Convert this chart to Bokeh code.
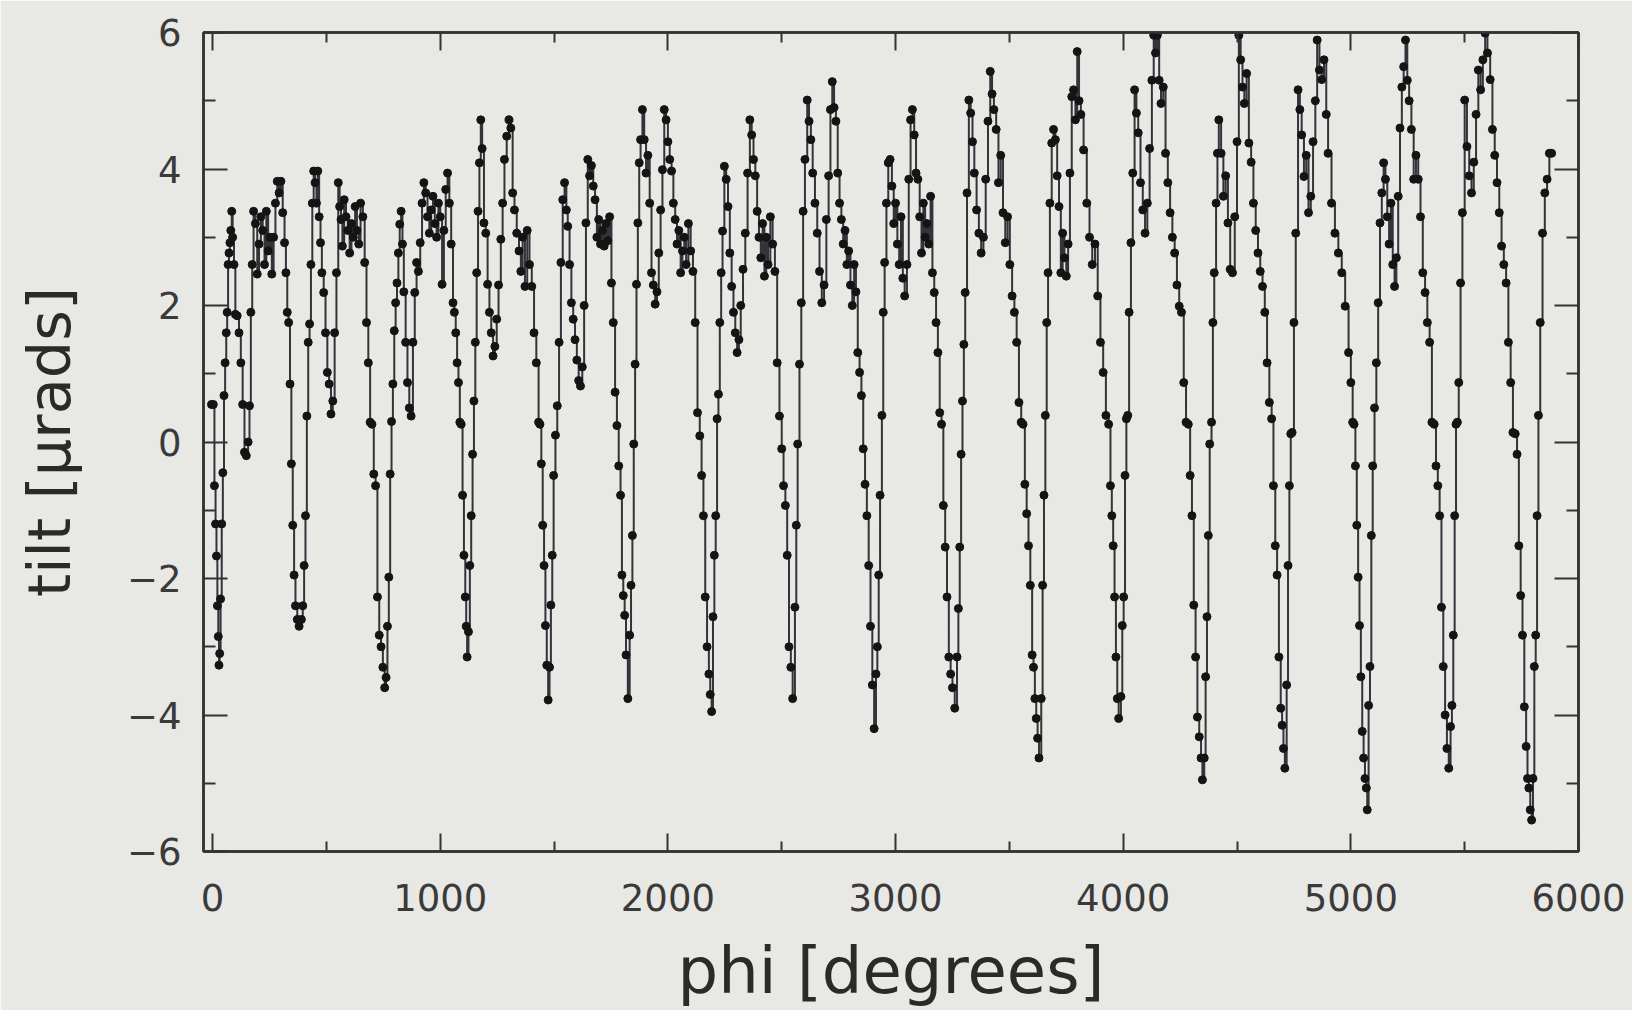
from bokeh.plotting import figure
from bokeh.models import LinearAxis, FixedTicker, CustomJSTickFormatter
from bokeh.embed import file_html
from bokeh.resources import INLINE

# ---- data: (phi [deg], tilt [urad]), one list per rotation ----
c00 = [(-5,0.55),(3,0.55),(8,-0.64),(13,-1.2),(17,-1.67),(21,-2.4),(25,-2.85),(28,-3.27)]
c01 = [(31,-3.1),(35,-2.3),(40,-1.2),(45,-0.45),(50,0.68),(55,1.16),(60,1.6),(64,1.9),(68,2.6),(72,2.77),(76,2.92),(80,3.1),(84,3.38),(88,3.0),(94,2.6),(100,1.87),(108,1.85),(116,1.6),(124,1.16),(132,0.55),(140,-0.15),(148,-0.2),(156,0.0),(162,0.53),(168,1.9),(174,2.6),(180,3.38),(188,3.2),(196,2.46),(204,2.9),(212,3.3),(220,3.1),(228,2.6),(236,3.38),(244,2.8),(252,3.0),(260,2.46),(268,3.0),(276,3.5),(284,3.82),(292,3.65),(300,3.82),(308,3.36),(316,2.92),(322,2.48),(328,1.9),(334,1.75),(340,0.85),(346,-0.32),(352,-1.22),(358,-1.95),(364,-2.4),(372,-2.6),(380,-2.7)]
c02 = [(390,-2.6),(396,-2.4),(402,-1.81),(408,-1.08),(414,0.38),(420,1.46),(426,1.73),(432,2.6),(438,3.5),(444,3.97),(450,3.8),(456,3.5),(462,3.97),(468,3.3),(474,2.92),(480,2.48),(488,2.19),(496,1.6),(504,1.02),(512,0.85),(520,0.41),(528,0.6),(536,1.6),(544,2.48),(552,3.8),(558,3.45),(564,3.26),(570,2.87),(578,3.55),(586,3.3),(594,3.1),(602,2.77),(610,3.2),(618,3.0),(626,3.45),(634,3.1),(642,2.9),(650,3.5),(660,3.3),(668,2.63),(676,1.75),(684,1.16),(692,0.29),(700,0.26),(708,-0.47),(716,-0.64),(724,-2.27),(732,-2.83),(740,-3.0),(748,-3.3),(756,-3.6)]
c03 = [(762,-3.45),(768,-2.7),(774,-1.98),(780,-0.47),(786,0.3),(792,0.85),(798,1.63),(804,2.04),(810,2.33),(816,2.77),(822,3.19),(828,3.38),(834,2.9),(840,2.2),(848,1.46),(856,0.87),(864,0.5),(872,0.38),(880,1.46),(888,2.19),(896,2.63),(904,2.5),(912,2.92),(920,3.5),(928,3.8),(936,3.65),(944,3.3),(952,3.06),(960,3.4),(968,3.6),(976,3.2),(984,3.0),(992,3.5),(1000,3.3),(1008,2.31),(1016,3.1),(1024,3.7),(1032,3.94),(1040,3.5),(1048,2.9),(1056,2.04),(1062,1.9),(1068,1.6),(1074,1.16),(1080,0.87),(1086,0.29),(1092,0.26),(1098,-0.78),(1104,-1.66),(1110,-2.27),(1114,-2.7),(1118,-3.15)]
c04 = [(1124,-2.78),(1130,-1.81),(1136,-1.08),(1142,-0.18),(1148,0.6),(1154,1.46),(1160,2.48),(1166,3.38),(1172,4.09),(1178,4.72),(1184,4.3),(1192,3.21),(1200,3.06),(1208,2.31),(1216,1.9),(1224,1.6),(1232,1.26),(1240,1.4),(1248,1.8),(1256,2.3),(1266,2.97),(1274,3.5),(1282,4.14),(1292,4.48),(1302,4.72),(1310,4.6),(1318,3.65),(1326,3.4),(1336,3.06),(1346,2.8),(1354,2.5),(1362,3.0),(1372,2.28),(1382,3.1),(1392,2.6),(1402,2.28),(1412,1.6),(1422,1.16),(1432,0.29),(1438,0.26),(1444,-0.32),(1450,-1.22),(1456,-1.81),(1462,-2.69),(1468,-3.27),(1474,-3.78)]
c05 = [(1480,-3.3),(1486,-2.39),(1492,-1.66),(1498,-0.49),(1506,0.1),(1514,0.53),(1522,1.46),(1530,2.63),(1538,3.55),(1546,3.8),(1554,3.4),(1560,3.16),(1568,2.6),(1576,2.04),(1584,1.8),(1592,1.5),(1600,1.2),(1608,0.9),(1616,0.82),(1624,1.1),(1632,2.0),(1640,3.21),(1648,4.14),(1656,3.9),(1664,4.05),(1672,3.75),(1680,3.55),(1688,3.0),(1696,3.26),(1704,2.9),(1712,3.1),(1720,2.87),(1728,3.2),(1736,2.95),(1744,3.3),(1752,2.33),(1760,1.75),(1768,0.73),(1776,0.24),(1784,-0.35),(1792,-0.78),(1798,-1.95),(1804,-2.25),(1810,-2.54),(1816,-3.12),(1824,-3.76)]
c06 = [(1832,-2.83),(1838,-2.1),(1844,-1.37),(1850,-0.03),(1856,1.14),(1862,2.31),(1868,3.21),(1874,4.09),(1880,4.43),(1888,4.87),(1896,4.43),(1904,3.94),(1912,4.2),(1920,3.5),(1928,2.48),(1936,2.3),(1944,2.02),(1952,2.2),(1960,2.77),(1968,3.4),(1976,3.99),(1984,4.87),(1992,4.72),(2000,4.4),(2008,4.14),(2016,3.97),(2024,3.5),(2032,3.26),(2040,2.9),(2048,3.1),(2056,2.48),(2064,2.8),(2072,3.0),(2080,2.6),(2090,3.2),(2100,2.8),(2110,2.5),(2120,1.75),(2130,0.43),(2140,0.09),(2148,-0.49),(2156,-1.08),(2164,-2.27),(2172,-3.0),(2180,-3.4),(2186,-3.7),(2192,-3.95)]
c07 = [(2198,-2.56),(2204,-1.66),(2210,-1.08),(2216,0.34),(2222,0.7),(2228,1.75),(2234,2.48),(2240,3.09),(2248,4.04),(2256,3.85),(2264,3.45),(2272,2.77),(2280,2.28),(2288,1.9),(2296,1.6),(2304,1.31),(2312,1.5),(2320,2.0),(2330,2.53),(2340,3.06),(2350,3.94),(2360,4.72),(2368,4.5),(2376,4.14),(2384,3.9),(2392,3.38),(2400,3.0),(2408,2.7),(2416,3.2),(2424,2.43),(2432,3.0),(2440,2.6),(2450,3.3),(2460,2.9),(2470,2.5),(2480,1.16),(2490,0.38),(2500,-0.1),(2508,-0.64),(2516,-0.93),(2524,-1.66),(2532,-3.0),(2540,-3.3),(2548,-3.76)]
c08 = [(2558,-2.42),(2564,-1.22),(2570,-0.03),(2578,1.14),(2586,2.04),(2594,3.38),(2602,4.14),(2612,5.01),(2620,4.7),(2628,4.43),(2636,3.94),(2646,3.5),(2656,3.06),(2666,2.5),(2676,2.04),(2686,2.3),(2696,3.26),(2706,3.9),(2714,4.87),(2722,5.28),(2730,4.9),(2738,4.7),(2746,3.94),(2754,3.5),(2762,3.26),(2770,2.9),(2778,3.1),(2786,2.6),(2794,2.8),(2802,2.3),(2810,2.0),(2818,2.6),(2826,2.2),(2834,1.31),(2842,1.02),(2850,0.68),(2858,-0.1),(2866,-0.62),(2874,-1.08),(2882,-1.81),(2890,-2.7),(2898,-3.56),(2906,-4.2)]
c09 = [(2914,-3.4),(2920,-3.0),(2926,-1.95),(2932,-0.78),(2940,0.39),(2946,1.9),(2952,2.63),(2960,3.5),(2968,4.09),(2976,4.14),(2984,3.75),(2992,3.2),(3000,3.5),(3008,2.9),(3016,2.6),(3024,3.3),(3032,2.4),(3040,2.14),(3050,2.6),(3058,3.85),(3066,4.72),(3074,4.87),(3082,4.5),(3090,3.94),(3098,3.85),(3106,3.3),(3114,2.77),(3122,3.5),(3130,3.0),(3138,3.2),(3146,2.9),(3154,3.6),(3162,2.48),(3170,2.19),(3178,1.75),(3186,1.31),(3194,0.43),(3202,0.26),(3210,-0.93),(3218,-1.54),(3226,-2.27),(3234,-3.15),(3242,-3.4),(3250,-3.6),(3260,-3.9)]
c10 = [(3270,-3.15),(3276,-2.44),(3282,-1.54),(3288,-0.18),(3294,0.6),(3300,1.43),(3306,2.19),(3314,3.65),(3322,5.01),(3330,4.82),(3338,4.4),(3346,3.94),(3356,3.4),(3366,3.06),(3376,2.77),(3386,3.0),(3396,3.85),(3406,4.7),(3416,5.43),(3424,5.1),(3432,4.87),(3442,4.58),(3452,3.8),(3462,4.2),(3472,3.36),(3482,2.92),(3492,3.3),(3502,2.6),(3512,2.14),(3522,1.9),(3532,1.46),(3542,0.58),(3552,0.29),(3560,0.26),(3568,-0.62),(3576,-1.05),(3584,-1.52),(3592,-2.1),(3600,-3.12),(3606,-3.3),(3612,-3.76),(3618,-4.05),(3624,-4.34),(3630,-4.63)]
c11 = [(3640,-3.76),(3646,-2.1),(3652,-0.78),(3658,0.39),(3664,1.75),(3670,2.48),(3678,3.5),(3686,4.38),(3694,4.58),(3702,4.43),(3710,3.9),(3718,3.45),(3726,2.48),(3734,3.06),(3742,2.7),(3750,2.43),(3758,2.9),(3766,3.94),(3774,5.06),(3782,5.16),(3790,4.72),(3798,5.72),(3806,5.0),(3814,4.8),(3826,4.28),(3840,3.5),(3852,3.0),(3864,2.6),(3876,2.9),(3888,2.14),(3900,1.46),(3912,1.02),(3924,0.39),(3936,0.26),(3944,-0.64),(3950,-1.08),(3956,-1.52),(3962,-2.27),(3968,-3.15),(3974,-3.76),(3980,-4.05)]
c12 = [(3990,-3.73),(3996,-2.69),(4002,-2.27),(4008,-0.49),(4014,0.34),(4020,0.39),(4026,1.9),(4034,2.92),(4042,3.94),(4050,5.16),(4058,4.82),(4066,4.53),(4076,3.8),(4086,3.4),(4096,3.06),(4106,3.5),(4116,4.3),(4126,5.3),(4134,5.96),(4142,5.7),(4150,5.96),(4158,5.3),(4166,4.96),(4176,5.2),(4186,4.23),(4196,3.8),(4206,3.36),(4216,3.0),(4226,2.77),(4236,2.3),(4246,1.99),(4256,1.9),(4266,0.87),(4276,0.29),(4286,0.26),(4294,-0.49),(4302,-1.08),(4310,-2.39),(4318,-3.15),(4326,-4.03),(4334,-4.32),(4342,-4.63),(4348,-4.95)]
c13 = [(4356,-4.63),(4362,-3.44),(4368,-2.56),(4374,-1.37),(4380,-0.03),(4388,0.29),(4394,1.75),(4400,2.48),(4408,3.5),(4414,4.23),(4420,4.72),(4430,4.23),(4440,3.6),(4450,3.9),(4460,3.21),(4470,2.53),(4480,2.48),(4490,3.3),(4500,4.4),(4508,5.96),(4516,5.6),(4524,5.2),(4532,4.96),(4542,5.4),(4552,4.38),(4562,4.1),(4572,3.5),(4582,3.1),(4592,2.77),(4602,2.5),(4612,2.28),(4622,1.9),(4632,1.16),(4642,0.58),(4652,0.34),(4660,-0.64),(4668,-1.52),(4676,-1.95),(4684,-3.15),(4692,-3.9),(4698,-4.15),(4704,-4.49),(4710,-4.78)]
c14 = [(4718,-3.56),(4724,-1.81),(4730,-0.64),(4736,0.12),(4742,0.14),(4750,1.75),(4758,3.06),(4768,5.16),(4776,4.87),(4784,4.5),(4794,3.89),(4804,4.2),(4814,3.36),(4824,3.6),(4834,4.4),(4844,5.0),(4852,5.89),(4862,5.45),(4872,5.31),(4882,5.6),(4892,4.8),(4900,4.23),(4915,3.5),(4930,3.06),(4945,2.77),(4960,2.48),(4975,1.99),(4990,1.31),(5000,0.87),(5008,0.29),(5014,0.26),(5020,-0.35),(5026,-1.22),(5032,-1.98),(5038,-2.69),(5044,-3.44),(5050,-4.24),(5056,-4.63),(5062,-4.93),(5068,-5.07),(5072,-5.39)]
c15 = [(5078,-3.86),(5084,-3.29),(5090,-1.37),(5096,-0.35),(5104,0.5),(5112,1.16),(5120,2.04),(5128,3.21),(5136,3.65),(5144,4.09),(5152,3.85),(5160,3.3),(5168,2.9),(5176,3.5),(5184,2.6),(5192,2.28),(5200,2.7),(5208,3.6),(5216,4.6),(5224,5.2),(5232,5.5),(5240,5.89),(5248,5.3),(5256,5.0),(5266,4.58),(5276,3.85),(5286,4.2),(5296,3.85),(5306,3.3),(5316,2.48),(5326,2.19),(5336,1.75),(5346,1.46),(5356,0.29),(5366,0.26),(5374,-0.35),(5382,-0.64),(5390,-1.08),(5398,-2.42),(5406,-3.29),(5414,-4.0),(5422,-4.49),(5430,-4.78)]
c16 = [(5438,-4.17),(5444,-3.86),(5450,-2.83),(5456,-1.08),(5462,0.26),(5468,0.29),(5474,0.87),(5482,2.33),(5490,3.36),(5500,5.01),(5510,4.33),(5520,3.9),(5530,3.65),(5540,4.1),(5550,4.8),(5560,5.45),(5570,5.16),(5580,5.6),(5590,5.99),(5600,5.7),(5612,5.31),(5622,4.58),(5632,4.2),(5642,3.8),(5652,3.36),(5662,2.87),(5672,2.6),(5682,2.33),(5692,1.46),(5702,0.87),(5712,0.14),(5722,0.12),(5730,-0.18),(5738,-1.52),(5746,-2.25),(5754,-2.83),(5762,-3.88),(5770,-4.46),(5776,-4.93),(5782,-5.07),(5788,-5.39),(5794,-5.54)]
c17 = [(5800,-4.93),(5806,-3.29),(5812,-2.83),(5818,-1.08),(5824,0.39),(5832,1.75),(5842,3.06),(5852,3.65),(5862,3.85),(5872,4.23),(5882,4.23)]

x_major_ticks = [0, 1000, 2000, 3000, 4000, 5000, 6000]
x_minor_ticks = [500, 1500, 2500, 3500, 4500, 5500]
y_major_ticks = [-6, -4, -2, 0, 2, 4, 6]
y_minor_ticks = [-5, -3, -1, 1, 3, 5]
x_label = "phi [degrees]"
y_label = "tilt [\u03bcrads]"

cycles = [c00, c01, c02, c03, c04, c05, c06, c07, c08, c09,
          c10, c11, c12, c13, c14, c15, c16, c17]
phi = [pt[0] for c in cycles for pt in c]
tilt = [pt[1] for c in cycles for pt in c]

# ---- styling ----
BG = "#e8e8e4"
INK = "#333333"
FONT = "DejaVu Sans"

p = figure(width=1632, height=1010, x_range=(-40, 6000), y_range=(-6, 6),
           output_backend="svg", toolbar_location=None,
           x_axis_label=x_label, y_axis_label=y_label)
p.min_border_left = 203
p.min_border_right = 54
p.min_border_top = 32
p.min_border_bottom = 157
p.background_fill_color = BG
p.border_fill_color = BG
p.outline_line_color = INK
p.outline_line_width = 2.5
p.grid.visible = False

def style_axis(ax, major, minor, major_len, minor_len):
    ax.ticker = FixedTicker(ticks=major, minor_ticks=minor)
    ax.major_tick_in = major_len
    ax.major_tick_out = 0
    ax.minor_tick_in = minor_len
    ax.minor_tick_out = 0
    ax.major_tick_line_color = INK
    ax.minor_tick_line_color = INK
    ax.major_tick_line_width = 2
    ax.minor_tick_line_width = 2
    ax.axis_line_color = INK
    ax.axis_line_width = 2.5
    ax.major_label_text_font = FONT
    ax.major_label_text_font_size = "37px"
    ax.major_label_text_color = "#3a3a3a"
    ax.axis_label_text_font = FONT
    ax.axis_label_text_font_style = "normal"
    ax.axis_label_text_color = "#2a2a2a"

xa = p.xaxis[0]
ya = p.yaxis[0]
style_axis(xa, x_major_ticks, x_minor_ticks, 18, 10)
style_axis(ya, y_major_ticks, y_minor_ticks, 24, 12)
xa.major_label_standoff = 32
xa.axis_label_standoff = 20
xa.axis_label_text_font_size = "64px"
ya.major_label_standoff = 22
ya.axis_label_standoff = 40
ya.axis_label_text_font_size = "59px"

blank = CustomJSTickFormatter(code="return ''")
top = LinearAxis()
style_axis(top, x_major_ticks, x_minor_ticks, 18, 10)
top.formatter = blank
top.major_label_standoff = 0
right = LinearAxis()
style_axis(right, y_major_ticks, y_minor_ticks, 24, 12)
right.formatter = blank
right.major_label_standoff = 0
p.add_layout(top, "above")
p.add_layout(right, "right")

p.step(phi, tilt, mode="after", line_color="#36323a", line_width=2)
p.scatter(phi, tilt, size=8, marker="circle", fill_color="#141414",
          line_color="#141414")

open("out.html", "w").write(file_html(p, INLINE))
